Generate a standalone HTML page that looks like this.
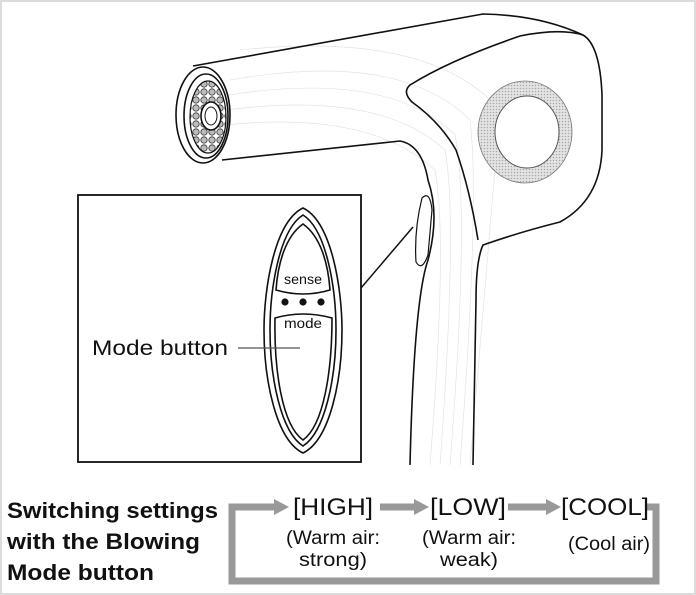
<!DOCTYPE html>
<html><head><meta charset="utf-8"><style>
html,body{margin:0;padding:0;background:#fff}
svg{display:block}
</style></head><body>
<svg width="696" height="595" viewBox="0 0 696 595" xmlns="http://www.w3.org/2000/svg">
<defs>
<pattern id="hex" width="8" height="8" patternUnits="userSpaceOnUse">
<rect width="8" height="8" fill="#fff"/>
<circle cx="4" cy="4" r="3.2" fill="#bbb" stroke="#333" stroke-width="0.8"/>
</pattern>
<pattern id="dots" width="3" height="3" patternUnits="userSpaceOnUse">
<rect width="3" height="3" fill="#e4e4e4"/>
<circle cx="1.5" cy="1.5" r="0.8" fill="#aaa"/>
</pattern>
</defs>
<rect x="1" y="1" width="694" height="593" fill="#fff" stroke="#dcdcdc" stroke-width="2"/>
<g fill="none" stroke="#e3e3e3" stroke-width="0.7">
<path d="M230 80 Q400 50 470 120 Q480 200 460 465"/>
<path d="M228 95 Q390 70 455 135 Q470 210 450 465"/>
<path d="M226 110 Q380 90 445 150 Q458 220 440 465"/>
<path d="M225 125 Q370 110 435 170 Q448 240 430 465"/>
<path d="M240 50 Q430 30 500 110 Q490 220 470 465"/>
</g>
<g fill="none" stroke="#111" stroke-width="1.6" stroke-linejoin="round">
<path d="M193 66 L483 14 Q540 15 583 35 Q600 45 602 95 L602 150 Q600 200 560 222 Q520 232 483 245 Q476 260 476 300 L473 465"/>
<path d="M222 160 L400 141 Q422 145 428 180 Q440 215 428 260 Q414 300 410 465"/>
<path d="M583 35 Q560 28 520 36 Q450 60 410 85 Q402 92 412 102 Q440 122 456 150 Q470 190 478 240"/>
<ellipse cx="203" cy="115" rx="27" ry="48" fill="#fff"/>
<ellipse cx="206" cy="116" rx="22" ry="42"/>
<ellipse cx="208" cy="117" rx="18" ry="36" fill="url(#hex)" stroke-width="1.2"/>
<ellipse cx="211" cy="116" rx="10" ry="14" fill="#fff"/>
<ellipse cx="211" cy="116" rx="6" ry="9" fill="#fff" stroke-width="1"/>
<path d="M422 198 Q430 190 432 210 L428 255 Q422 272 416 262 Q414 230 422 198 Z" fill="#fff" stroke-width="1.2"/>
</g>
<ellipse cx="525" cy="132" rx="47" ry="51" fill="url(#dots)" stroke="#777" stroke-width="0.8"/>
<ellipse cx="527" cy="132" rx="32" ry="36" fill="#fff" stroke="#555" stroke-width="1"/>
<line x1="361" y1="288" x2="413" y2="227" stroke="#111" stroke-width="1.5"/>
<rect x="78" y="195" width="283" height="267" fill="#fff" stroke="#111" stroke-width="1.8"/>
<g fill="none" stroke="#111" stroke-width="1.6">
<path d="M303 208 C332 222 342 290 342 330 C342 380 330 440 303 453 C276 440 264 380 264 330 C264 290 274 222 303 208 Z" fill="#fff"/>
<path d="M303 215 C327 230 336 290 336 330 C336 378 325 432 303 446 C281 432 270 378 270 330 C270 290 279 230 303 215 Z"/>
<path d="M303 224 C320 236 328 262 330 290 Q303 298 276 290 C278 262 286 236 303 224 Z"/>
<path d="M275 318 Q303 310 332 318 C332 370 324 425 303 440 C282 425 274 370 275 318 Z"/>
</g>
<circle cx="285" cy="302" r="3.6" fill="#111"/>
<circle cx="303" cy="302" r="3.6" fill="#111"/>
<circle cx="321" cy="302" r="3.6" fill="#111"/>
<text x="303" y="284" text-anchor="middle" font-family="Liberation Sans, sans-serif" font-size="14" fill="#111" textLength="38" lengthAdjust="spacingAndGlyphs">sense</text>
<text x="303" y="328" text-anchor="middle" font-family="Liberation Sans, sans-serif" font-size="14" fill="#111" textLength="38" lengthAdjust="spacingAndGlyphs">mode</text>
<text x="92" y="355" font-family="Liberation Sans, sans-serif" font-size="21" fill="#111" textLength="136" lengthAdjust="spacingAndGlyphs">Mode button</text>
<line x1="238" y1="348" x2="300" y2="348" stroke="#555" stroke-width="1.2"/>
<g font-family="Liberation Sans, sans-serif" font-weight="bold" font-size="22" fill="#111">
<text x="7" y="518" textLength="211" lengthAdjust="spacingAndGlyphs">Switching settings</text>
<text x="7" y="549" textLength="193" lengthAdjust="spacingAndGlyphs">with the Blowing</text>
<text x="7" y="580" textLength="147" lengthAdjust="spacingAndGlyphs">Mode button</text>
</g>
<g fill="none" stroke="#999" stroke-width="7">
<path d="M276 507 L232 507 L232 581 L656 581 L656 507 L646 507"/>
<line x1="380" y1="507" x2="416" y2="507"/>
<line x1="508" y1="507" x2="548" y2="507"/>
</g>
<g fill="#999">
<polygon points="274,499 289,507 274,515"/>
<polygon points="414,499 429,507 414,515"/>
<polygon points="546,499 561,507 546,515"/>
</g>
<g font-family="Liberation Sans, sans-serif" font-size="24" fill="#111" text-anchor="middle">
<text x="333" y="515" textLength="80" lengthAdjust="spacingAndGlyphs">[HIGH]</text>
<text x="468" y="515" textLength="76" lengthAdjust="spacingAndGlyphs">[LOW]</text>
<text x="605" y="515" textLength="88" lengthAdjust="spacingAndGlyphs">[COOL]</text>
</g>
<g font-family="Liberation Sans, sans-serif" font-size="19" fill="#111" text-anchor="middle">
<text x="333" y="544" textLength="94" lengthAdjust="spacingAndGlyphs">(Warm air:</text>
<text x="333" y="566" textLength="68" lengthAdjust="spacingAndGlyphs">strong)</text>
<text x="469" y="544" textLength="94" lengthAdjust="spacingAndGlyphs">(Warm air:</text>
<text x="469" y="566" textLength="58" lengthAdjust="spacingAndGlyphs">weak)</text>
<text x="609" y="550" textLength="82" lengthAdjust="spacingAndGlyphs">(Cool air)</text>
</g>
</svg>
</body></html>
